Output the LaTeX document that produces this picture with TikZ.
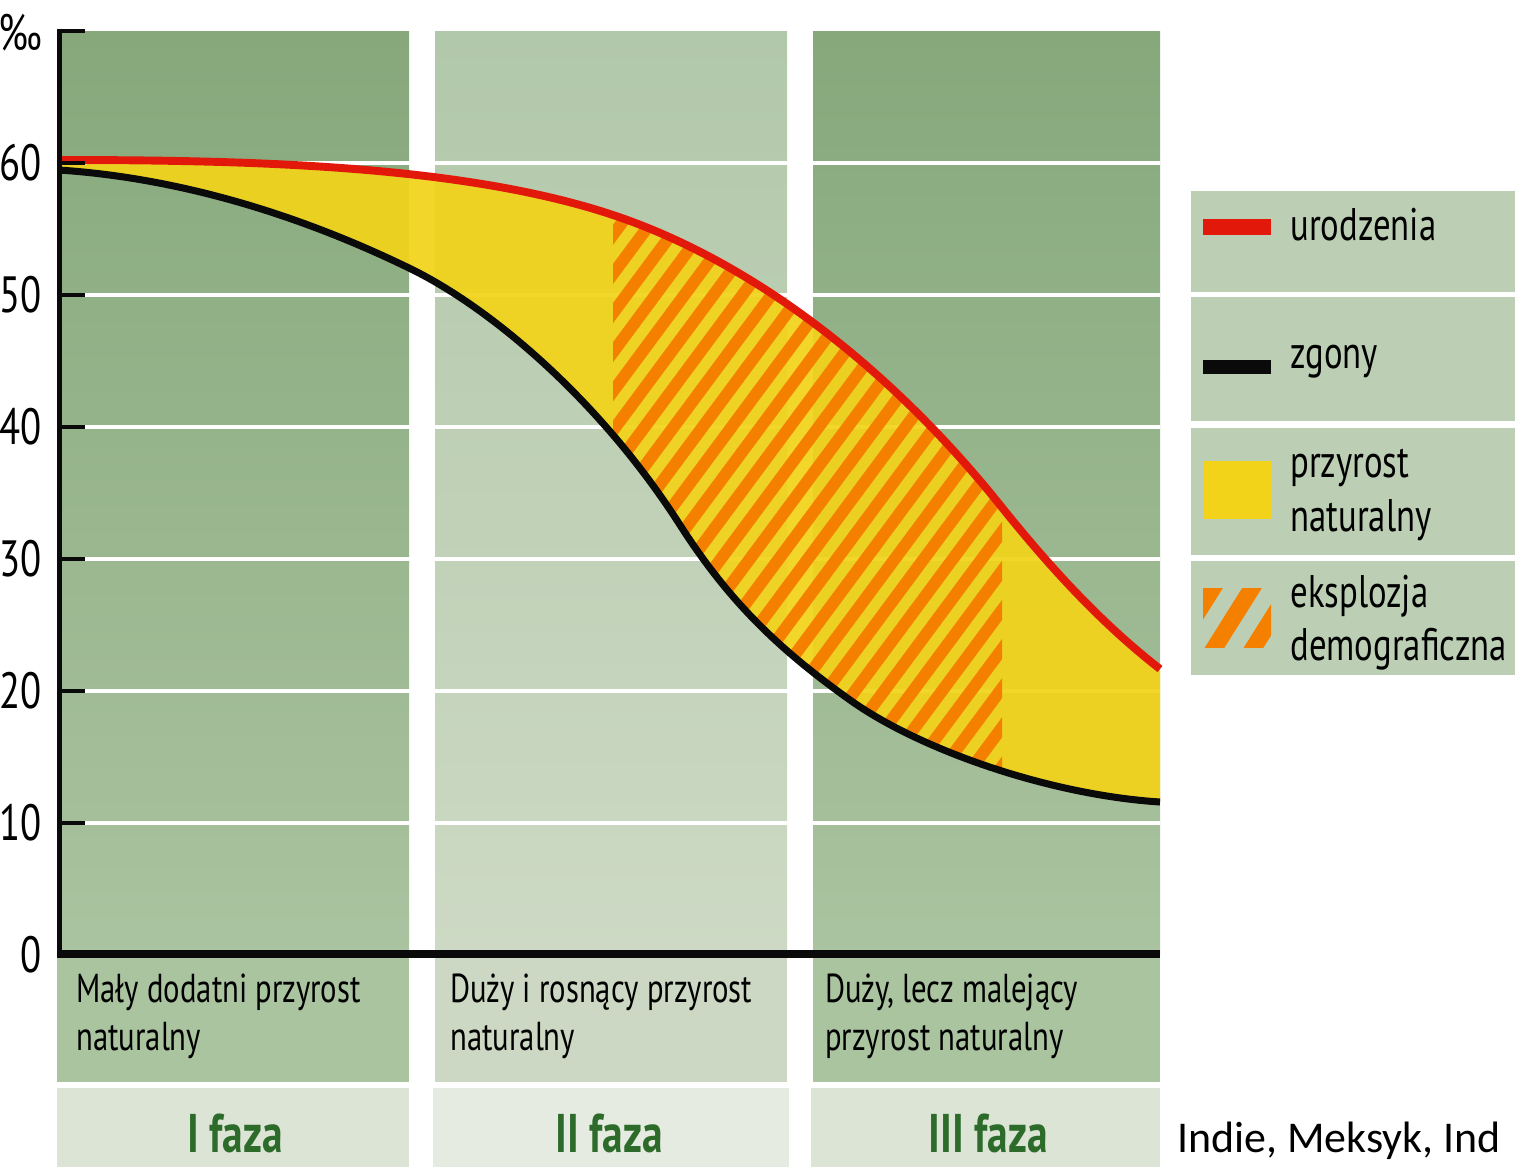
\documentclass[tikz,border=0pt]{standalone}
\usepackage{fontspec}
\setmainfont{PT Sans}
\newfontfamily\cond[FakeStretch=0.76]{PT Sans}
\newfontfamily\calib{Carlito}
\definecolor{cOneTop}{HTML}{86A87B}
\definecolor{cOneBot}{HTML}{AAC3A0}
\definecolor{cTwoTop}{HTML}{B2C8AA}
\definecolor{cTwoBot}{HTML}{CDD9C4}
\definecolor{labOne}{HTML}{ABC4A0}
\definecolor{labTwo}{HTML}{CCD8C3}
\definecolor{phOne}{HTML}{DCE4D6}
\definecolor{phTwo}{HTML}{E5EBE0}
\definecolor{legGreen}{HTML}{BCCFB4}
\definecolor{birthRed}{HTML}{E2190A}
\definecolor{deathBlack}{HTML}{0A0A0A}
\definecolor{growYellow}{HTML}{F2D31A}
\definecolor{boomOrange}{HTML}{F58000}
\definecolor{phaseGreen}{HTML}{2D6B2A}
\begin{document}
\begin{tikzpicture}[x=0.02cm,y=-0.02cm,
  axisnum/.style={font=\cond\fontsize{29}{32}\selectfont, inner sep=0pt, anchor=east},
  legtxt/.style={font=\cond\fontsize{26}{30}\selectfont, inner sep=0pt, anchor=base west},
  labtxt/.style={font=\cond\fontsize{23}{27}\selectfont, inner sep=0pt, anchor=base west},
  phasetxt/.style={font=\cond\bfseries\fontsize{31}{35}\selectfont, text=phaseGreen, inner sep=0pt, anchor=base},
  gridline/.style={white, line width=2.8pt},
  tickline/.style={deathBlack, line width=2.8pt},
  birthline/.style={birthRed, line width=4.5pt},
  deathline/.style={deathBlack, line width=4pt},
  stripe/.style={boomOrange, line width=6.8pt},
  legstripe/.style={boomOrange, line width=9.5pt}]
\useasboundingbox (0,0) rectangle (1515,1167);
% background columns
\shade[top color=cOneTop, bottom color=cOneBot] (59,31) rectangle (409,955);
\shade[top color=cTwoTop, bottom color=cTwoBot] (435,31) rectangle (787,955);
\shade[top color=cOneTop, bottom color=cOneBot] (813,31) rectangle (1160,955);
% grid lines
\foreach \gy in {163,295,427,559,691,823}
  \draw[gridline] (59,\gy) -- (1160,\gy);
% label and phase cells
\fill[labOne] (57,958) rectangle (409,1082);
\fill[labTwo] (435,958) rectangle (787,1082);
\fill[labOne] (813,958) rectangle (1160,1082);
\fill[phOne] (57,1088) rectangle (409,1167);
\fill[phTwo] (433,1088) rectangle (789,1167);
\fill[phOne] (811,1088) rectangle (1160,1167);
% curve paths
\def\birthpath{(59,160) .. controls (250,160) and (463,165) .. (613,215) .. controls (763,265) and (900,380) .. (1000,505) .. controls (1060,580) and (1110,630) .. (1160,669)}
\def\deathrev{(1160,802) .. controls (1050,795) and (920,750) .. (850,700) .. controls (780,650) and (730,603) .. (680,525) .. controls (600,400) and (490,307) .. (409,268) .. controls (300,215) and (180,178) .. (59,170)}
% natural growth area
\fill[growYellow, fill opacity=0.93] \birthpath -- \deathrev -- cycle;
% demographic explosion hatch
\begin{scope}
  \clip \birthpath -- \deathrev -- cycle;
  \clip (613,0) rectangle (1002,1000);
  \foreach \k in {-2,...,31}
    \draw[stripe] (46+29*\k,1000) -- ++(741,-1000);
\end{scope}
% curves
\draw[birthline] \birthpath;
\draw[deathline] \deathrev;
% axes
\draw[tickline] (59.5,28.6) -- (59.5,955);
\draw[deathBlack, line width=4pt] (57,954) -- (1160,954);
\foreach \gy in {31,163,295,427,559,691,823}
  \draw[tickline] (58,\gy) -- (85,\gy);
% axis numbers
\node[axisnum] (u) at (43,33) {‰};
\node[axisnum] (n60) at (42,163) {60};
\node[axisnum] (n50) at (42,295) {50};
\node[axisnum] (n40) at (42,427) {40};
\node[axisnum] (n30) at (42,559) {30};
\node[axisnum] (n20) at (42,691) {20};
\node[axisnum] (n10) at (42,823) {10};
\node[axisnum] (n0) at (42,955) {0};
% column labels
\node[labtxt] (l1a) at (76,1002) {Mały dodatni przyrost};
\node[labtxt] (l1b) at (76,1050) {naturalny};
\node[labtxt] (l2a) at (450,1002) {Duży i rosnący przyrost};
\node[labtxt] (l2b) at (450,1050) {naturalny};
\node[labtxt] (l3a) at (825,1002) {Duży, lecz malejący};
\node[labtxt] (l3b) at (825,1050) {przyrost naturalny};
% phases
\node[phasetxt] (p1) at (235,1152) {I faza};
\node[phasetxt] (p2) at (609,1152) {II faza};
\node[phasetxt] (p3) at (988,1152) {III faza};
\node[font=\calib\fontsize{25}{29}\selectfont, inner sep=0pt, anchor=base west] (ex) at (1177,1152) {Indie, Meksyk, Ind};
% legend
\fill[legGreen] (1191,191) rectangle (1515,292);
\fill[legGreen] (1191,297) rectangle (1515,421);
\fill[legGreen] (1191,428) rectangle (1515,555);
\fill[legGreen] (1191,561) rectangle (1515,675);
\fill[birthRed] (1203,219) rectangle (1271,235);
\fill[deathBlack] (1203,360) rectangle (1271,374);
\fill[growYellow] (1203,461) rectangle (1271,519);
\begin{scope}
  \clip (1203,588) rectangle (1271,647);
  \foreach \k in {-1,0,1}
    \draw[legstripe] (1258.3+39*\k,578) -- (1208.7+39*\k,657);
\end{scope}
\node[legtxt] (lg1) at (1290,240) {urodzenia};
\node[legtxt] (lg2) at (1290,368) {zgony};
\node[legtxt] (lg3) at (1290,477) {przyrost};
\node[legtxt] (lg3b) at (1290,531) {naturalny};
\node[legtxt] (lg4) at (1290,607) {eksplozja};
\node[legtxt] (lg4b) at (1290,660) {demograficzna};
\end{tikzpicture}
\end{document}
